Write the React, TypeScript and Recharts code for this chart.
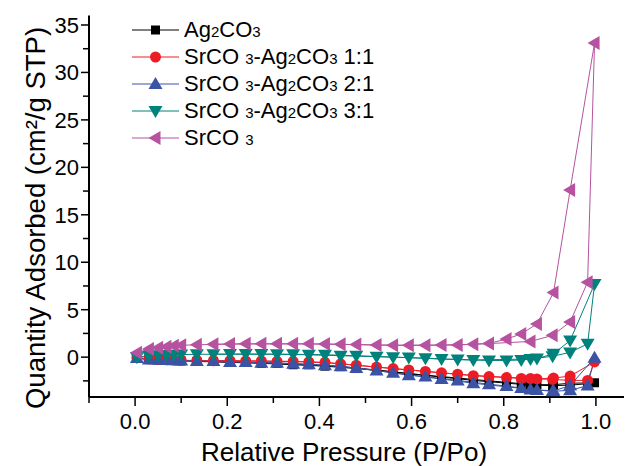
import React from 'react'
import { LineChart, Line, XAxis, YAxis, Legend } from 'recharts'

// relative pressure points, adsorption branch then desorption branch
const adsP = [0.004, 0.03, 0.05, 0.068, 0.084, 0.1, 0.134, 0.206, 0.274, 0.343, 0.412, 0.48, 0.56, 0.63, 0.7, 0.768, 0.806, 0.838, 0.872, 0.908, 0.944, 0.997]
const desP = [0.982, 0.944, 0.906, 0.858, 0.734, 0.665, 0.594, 0.524, 0.446, 0.377, 0.308, 0.24, 0.17]

// quantity adsorbed, cm3/g STP
const ag2co3Ads = [-0.1, -0.25, -0.3, -0.33, -0.36, -0.4, -0.45, -0.55, -0.65, -0.8, -0.95, -1.2, -1.55, -1.9, -2.2, -2.5, -2.65, -2.8, -2.9, -2.9, -2.75, -2.7]
const ag2co3Des = [-2.8, -2.95, -3.0, -2.95, -2.45, -2.1, -1.75, -1.35, -1.0, -0.8, -0.65, -0.55, -0.45]
const mix11Ads = [-0.05, -0.2, -0.25, -0.28, -0.3, -0.33, -0.35, -0.38, -0.4, -0.45, -0.55, -0.85, -1.2, -1.5, -1.8, -2.05, -2.15, -2.25, -2.3, -2.2, -2.0, -0.5]
const mix11Des = [-2.45, -2.45, -2.35, -2.25, -1.95, -1.65, -1.35, -1.05, -0.7, -0.5, -0.45, -0.4, -0.38]
const mix21Ads = [-0.1, -0.25, -0.28, -0.3, -0.32, -0.35, -0.4, -0.5, -0.6, -0.7, -0.85, -1.15, -1.65, -2.05, -2.45, -2.85, -3.05, -3.25, -3.45, -3.55, -3.0, -0.07]
const mix21Des = [-3.0, -3.5, -3.6, -3.4, -2.75, -2.3, -1.9, -1.4, -0.95, -0.75, -0.6, -0.5, -0.4]
const mix31Ads = [0.0, 0.15, 0.2, 0.22, 0.25, 0.27, 0.3, 0.32, 0.32, 0.3, 0.25, 0.15, 0.0, -0.12, -0.25, -0.35, -0.35, -0.3, -0.15, 0.35, 1.75, 7.7]
const mix31Des = [1.4, 0.5, 0.1, -0.2, -0.3, -0.2, -0.05, 0.05, 0.15, 0.25, 0.3, 0.32, 0.3]
const srco3Ads = [0.45, 0.85, 1.0, 1.1, 1.2, 1.25, 1.3, 1.38, 1.4, 1.4, 1.38, 1.32, 1.25, 1.25, 1.28, 1.45, 1.9, 2.45, 3.5, 6.8, 17.6, 33.1]
const srco3Des = [7.9, 3.7, 2.3, 1.65, 1.35, 1.28, 1.25, 1.28, 1.35, 1.4, 1.4, 1.4, 1.36]

// "_" marks a subscript character
const seriesNames = ['Ag_2CO_3', 'SrCO _3-Ag_2CO_3 1:1', 'SrCO _3-Ag_2CO_3 2:1', 'SrCO _3-Ag_2CO_3 3:1', 'SrCO _3']

const xTicks = [-0.1, 0, 0.1, 0.2, 0.3, 0.4, 0.5, 0.6, 0.7, 0.8, 0.9, 1.0]
const yTicks = [-2.5, 0, 2.5, 5, 7.5, 10, 12.5, 15, 17.5, 20, 22.5, 25, 27.5, 30, 32.5, 35]

const FONT = '"Liberation Sans", Arial, sans-serif'

type Shape = 'square' | 'circle' | 'up' | 'down' | 'left'

const toPoints = (ads: number[], des: number[]) => [
  ...adsP.map((p, i) => ({ p, v: ads[i] })),
  ...desP.map((p, i) => ({ p, v: des[i] })),
]

const series = [
  { name: seriesNames[0], color: '#000000', shape: 'square' as Shape, data: toPoints(ag2co3Ads, ag2co3Des) },
  { name: seriesNames[1], color: '#ed1c24', shape: 'circle' as Shape, data: toPoints(mix11Ads, mix11Des) },
  { name: seriesNames[2], color: '#3a53a4', shape: 'up' as Shape, data: toPoints(mix21Ads, mix21Des) },
  { name: seriesNames[3], color: '#00827c', shape: 'down' as Shape, data: toPoints(mix31Ads, mix31Des) },
  { name: seriesNames[4], color: '#b652a0', shape: 'left' as Shape, data: toPoints(srco3Ads, srco3Des) },
]

function Marker({ shape, cx, cy, color }: { shape: Shape; cx: number; cy: number; color: string }) {
  switch (shape) {
    case 'square':
      return <rect x={cx - 4.5} y={cy - 4.5} width={9} height={9} fill={color} />
    case 'circle':
      return <circle cx={cx} cy={cy} r={5.5} fill={color} />
    case 'up':
      return <polygon points={`${cx},${cy - 7} ${cx + 7},${cy + 5} ${cx - 7},${cy + 5}`} fill={color} />
    case 'down':
      return <polygon points={`${cx - 7},${cy - 5} ${cx + 7},${cy - 5} ${cx},${cy + 7}`} fill={color} />
    default:
      return <polygon points={`${cx - 7},${cy} ${cx + 5},${cy - 7} ${cx + 5},${cy + 7}`} fill={color} />
  }
}

function SubText({ text }: { text: string }) {
  const parts: React.ReactNode[] = []
  for (let i = 0; i < text.length; i++) {
    if (text[i] === '_') {
      parts.push(<span key={i} style={{ fontSize: 15 }}>{text[i + 1]}</span>)
      i++
    } else {
      parts.push(text[i])
    }
  }
  return <span>{parts}</span>
}

const renderLegend = () => (
  <div style={{ fontFamily: FONT, fontSize: 22, color: '#000' }}>
    {series.map(s => (
      <div key={s.name} style={{ display: 'flex', alignItems: 'center', height: 26.8 }}>
        <svg width={48} height={20} style={{ display: 'block' }}>
          <line x1={0} y1={10} x2={47} y2={10} stroke={s.color} strokeWidth={1} />
          <Marker shape={s.shape} cx={23.5} cy={10} color={s.color} />
        </svg>
        <span style={{ marginLeft: 4, whiteSpace: 'nowrap' }}><SubText text={s.name} /></span>
      </div>
    ))}
  </div>
)

const X_TICK = 9
const Y_TICK = 8

const XTick = (props: any) => {
  const { x, y, payload } = props
  const axisY = y - X_TICK - 2
  const v = payload.value
  const major = v >= 0 && Math.round(v * 10) % 2 === 0
  return (
    <g>
      <line x1={x} x2={x} y1={axisY} y2={axisY + (major ? X_TICK : 6)} stroke="#000" strokeWidth={1.5} />
      {major && (
        <text x={x} y={axisY + 32} textAnchor="middle" fontSize={22} fontFamily={FONT} fill="#000">
          {v.toFixed(1)}
        </text>
      )}
    </g>
  )
}

const YTick = (props: any) => {
  const { x, y, payload } = props
  const axisX = x + Y_TICK + 2
  const v = payload.value
  const major = v % 5 === 0
  return (
    <g>
      <line x1={axisX - (major ? Y_TICK : 6)} x2={axisX} y1={y} y2={y} stroke="#000" strokeWidth={1.5} />
      {major && (
        <text x={axisX - 10} y={y} dy="0.36em" textAnchor="end" fontSize={22} fontFamily={FONT} fill="#000">
          {v}
        </text>
      )}
    </g>
  )
}

export default function App() {
  return (
    <div style={{ width: 624, height: 458, overflow: 'hidden', position: 'relative', background: '#fff' }}>
      <LineChart width={640} height={458} margin={{ top: 7.5, right: 6, bottom: 0, left: 0 }}>
        <XAxis
          xAxisId="b"
          type="number"
          dataKey="p"
          domain={[-0.1, 1.1]}
          ticks={xTicks}
          allowDataOverflow
          height={69}
          tickSize={X_TICK}
          tickMargin={2}
          tickLine={false}
          tick={XTick}
          axisLine={{ stroke: '#000', strokeWidth: 2 }}
          label={{
            content: () => (
              <text x={336} y={453} textAnchor="middle" fontSize={26} fontFamily={FONT} fill="#000">
                Relative Pressure (P/Po)
              </text>
            ),
          }}
        />
        <XAxis
          xAxisId="t"
          orientation="top"
          type="number"
          dataKey="p"
          domain={[-0.1, 1.1]}
          ticks={xTicks}
          height={0}
          mirror
          tick={false}
          tickSize={3}
          tickLine={{ stroke: '#000' }}
          axisLine={{ stroke: '#000', strokeWidth: 2 }}
        />
        <YAxis
          type="number"
          domain={[-4.2, 36]}
          ticks={yTicks}
          allowDataOverflow
          width={81}
          tickSize={Y_TICK}
          tickMargin={2}
          tickLine={false}
          tick={YTick}
          axisLine={{ stroke: '#000', strokeWidth: 2 }}
          label={{
            content: () => (
              <text x={27} y={210} transform="rotate(-90 27 210)" textAnchor="middle" dominantBaseline="central" fontSize={27.5} fontFamily={FONT} fill="#000">
                Quantity Adsorbed (cm²/g STP)
              </text>
            ),
          }}
        />
        {series.map(s => (
          <Line
            key={s.name}
            xAxisId="b"
            data={s.data}
            dataKey="v"
            type="linear"
            stroke={s.color}
            strokeWidth={1}
            isAnimationActive={false}
            activeDot={false}
            dot={(d: any) => <Marker key={d.index} shape={s.shape} cx={d.cx} cy={d.cy} color={s.color} />}
          />
        ))}
        <Legend
          layout="vertical"
          verticalAlign="middle"
          align="center"
          content={renderLegend}
          wrapperStyle={{ left: 124, top: 9, width: 'auto', height: 'auto' }}
        />
      </LineChart>
    </div>
  )
}
